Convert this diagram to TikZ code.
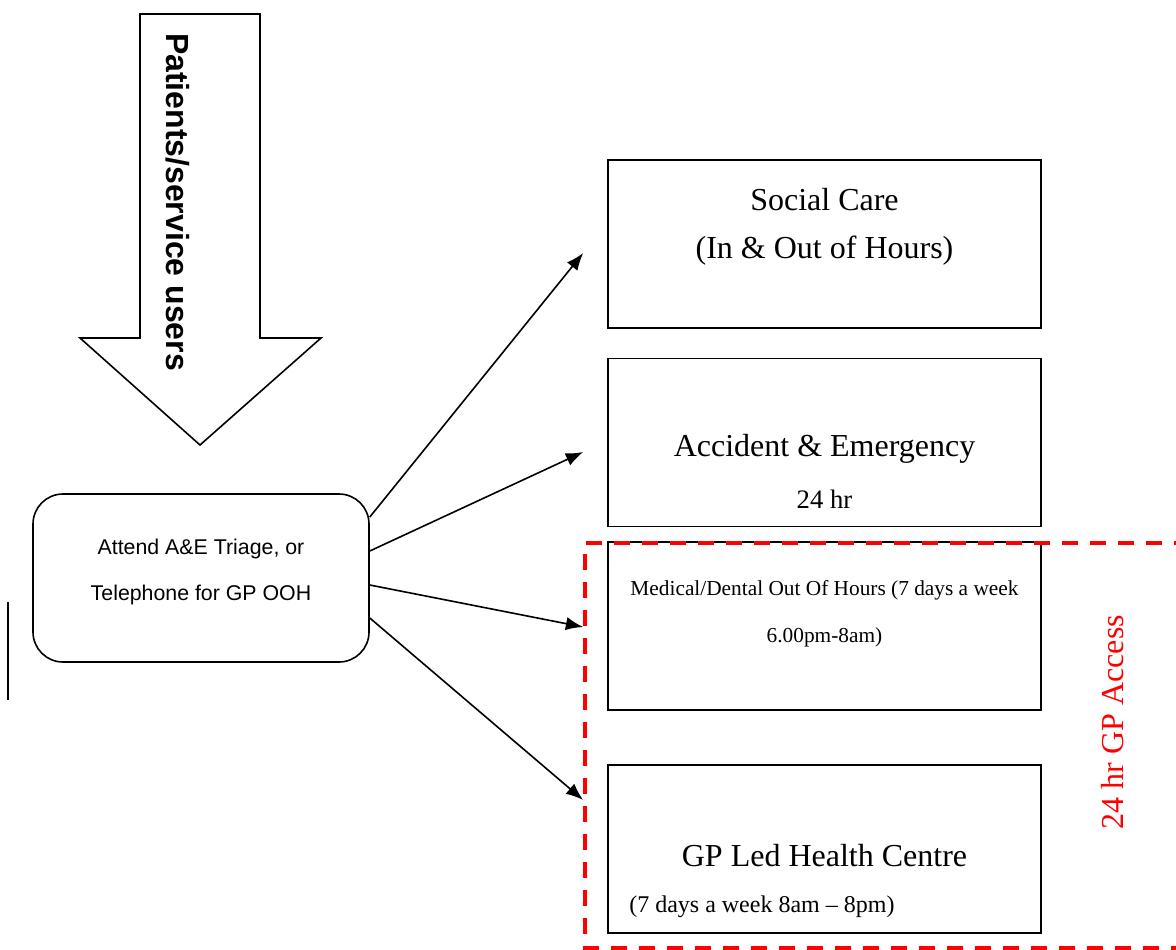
\documentclass[tikz,border=0pt]{standalone}
\usepackage{fontspec}
\setmainfont{Liberation Serif}
\setsansfont{Liberation Sans}
\usetikzlibrary{arrows.meta}

\begin{document}
\begin{tikzpicture}[x=0.75pt,y=-0.75pt,
    service/.style={draw,line width=1.2pt,minimum width=324.75pt,minimum height=126pt,inner sep=0pt},
    link/.style={line width=1.2pt,-{Latex[length=13pt,width=10pt]}},
    gpzone/.style={red,line width=2.6pt,dash pattern=on 12pt off 9pt}]
  \useasboundingbox (0,0) rectangle (1176,949);

  % patients arrow
  \draw[line width=1.2pt] (140,14) -- (260,14) -- (260,338) -- (321,338)
    -- (200,445) -- (80,338) -- (140,338) -- cycle;
  \node[rotate=-90,font=\sffamily\bfseries\fontsize{24}{28}\selectfont] (patients) at (178,202) {Patients/service users};

  \node[draw,line width=1.2pt,rounded corners=22.5pt,minimum width=252pt,minimum height=126pt] (triage) at (201,578) {};
  \node[align=center,font=\sffamily\fontsize{16}{35}\selectfont] (triagetxt) at (201,572) {Attend A\&E Triage, or\\Telephone for GP OOH};
  \draw[line width=1.5pt] (8,602) -- (8,700);

  % services
  \node[service] (social) at (824.5,244) {};
  \node[service] (ae) at (824.5,442.5) {};
  \node[service] (ooh) at (824.5,626) {};
  \node[service] (gpled) at (824.5,849) {};

  \node[align=center,font=\fontsize{24}{36}\selectfont] (socialtxt) at (824.5,227) {Social Care\\(In \& Out of Hours)};
  \node[font=\fontsize{24}{28}\selectfont] (aetxt) at (824.5,449) {Accident \& Emergency};
  \node[font=\fontsize{20}{24}\selectfont] (aehrs) at (824.5,499) {24 hr};
  \node[align=center,font=\fontsize{16}{35}\selectfont] (oohtxt) at (824.5,614) {Medical/Dental Out Of Hours (7 days a week\\6.00pm-8am)};
  \node[font=\fontsize{24}{28}\selectfont] (gpledtxt) at (824.5,856) {GP Led Health Centre};
  \node[anchor=west,inner sep=0pt,font=\fontsize{18}{22}\selectfont] (gpledhrs) at (629,907) {(7 days a week 8am – 8pm)};

  % 24 hr GP area
  \draw[gpzone] (1190,543) -- (585,543) -- (585,948) -- (1190,948);
  \node[red,rotate=90,font=\fontsize{24}{28}\selectfont] (gpaccess) at (1113,722) {24 hr GP Access};

  % routes
  \coordinate (socialin) at ([shift={(-24,9)}]social.west);
  \coordinate (aein) at ([shift={(-24,9.5)}]ae.west);
  \coordinate (oohin) at ([shift={(-24,1)}]ooh.west);
  \coordinate (gpledin) at ([shift={(-24,-49)}]gpled.west);
  \draw[link] ([shift={(0,-61)}]triage.east) -- (socialin);
  \draw[link] ([shift={(0,-27)}]triage.east) -- (aein);
  \draw[link] ([shift={(0,7)}]triage.east) -- (oohin);
  \draw[link] ([shift={(0,40)}]triage.east) -- (gpledin);
\end{tikzpicture}
\end{document}
